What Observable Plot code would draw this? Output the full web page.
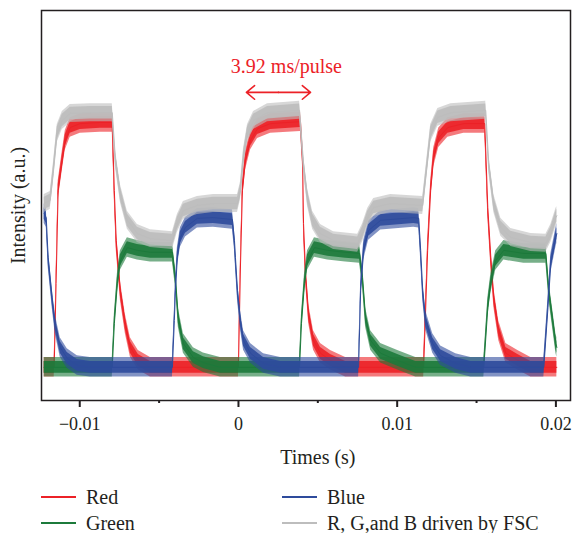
<!DOCTYPE html>
<html>
<head>
<meta charset="utf-8">
<script src="https://cdn.jsdelivr.net/npm/d3@7"></script>
<script src="https://cdn.jsdelivr.net/npm/@observablehq/plot@0.6"></script>
<style>
  html, body { margin: 0; padding: 0; background: #fff; }
  #wrap { position: relative; width: 573px; height: 533px; font-family: "Liberation Serif", "DejaVu Serif", serif; color: #231f20; }
  .item { position: absolute; display: flex; align-items: center; height: 26px; font-size: 20px; }
  .sw { width: 35px; height: 2.5px; margin-right: 10px; }
</style>
</head>
<body>
<div id="wrap"></div>
<script>
// ---- data (time in ms, intensity in a.u.) ----
const seriesNames = ["Red", "Green", "Blue", "R, G,and B driven by FSC"];
const seriesColors = ["#ec2127", "#1c7a3b", "#2e4b9c", "#bdbdbd"];

const red = [
  [-12.24, 8.5], [-11.61, 8.5], [-11.49, 30.0], [-11.36, 53.8], [-11.10, 61.5], [-10.91, 66.7], [-10.60, 70.0], [-9.97, 71.0], [-8.71, 71.3], [-7.95, 71.3],
  [-7.82, 53.8], [-7.70, 41.0], [-7.44, 28.2], [-7.13, 19.7], [-6.81, 13.6], [-6.31, 10.3], [-5.55, 8.5],
  [0.0, 8.5], [0.13, 35.0], [0.25, 53.8], [0.44, 61.5], [0.76, 66.7], [1.20, 69.7], [2.02, 71.0], [3.91, 71.5],
  [4.04, 62.3], [4.10, 45.4], [4.23, 32.6], [4.42, 22.3], [4.73, 15.4], [5.17, 12.1], [5.80, 10.3], [6.75, 8.5],
  [11.67, 8.5], [11.92, 38.5], [12.11, 53.8], [12.30, 62.3], [12.62, 67.4], [13.19, 70.0], [14.20, 71.0], [15.52, 71.0],
  [15.71, 49.5], [15.90, 36.7], [16.09, 26.4], [16.40, 17.9], [16.85, 12.1], [17.60, 10.3], [18.42, 8.5], [20.06, 8.5]
];
const green = [
  [-12.24, 8.5], [-7.95, 8.5], [-7.82, 19.7], [-7.63, 30.0], [-7.44, 35.9], [-7.00, 39.2], [-6.37, 38.5], [-5.55, 38.0], [-4.16, 38.0],
  [-3.97, 31.5], [-3.79, 21.3], [-3.47, 14.6], [-2.84, 11.0], [-2.21, 9.7], [-1.14, 8.5],
  [3.85, 8.5], [3.97, 19.7], [4.16, 30.0], [4.35, 35.9], [4.79, 39.2], [5.62, 38.5], [6.75, 38.0], [7.63, 37.7],
  [7.82, 31.5], [8.01, 21.3], [8.33, 15.4], [8.96, 12.1], [10.03, 10.3], [11.17, 8.5],
  [15.46, 8.5], [15.71, 23.8], [15.90, 30.0], [16.21, 35.9], [16.72, 38.5], [17.98, 37.7], [19.37, 37.7],
  [19.56, 28.2], [19.81, 20.5], [20.00, 14.6], [20.06, 13.6]
];
const blue = [
  [-12.24, 47.9], [-12.11, 46.9], [-11.99, 36.7], [-11.74, 26.4], [-11.55, 19.7], [-11.23, 13.6], [-10.79, 10.8], [-10.16, 9.0], [-9.34, 8.5],
  [-4.16, 8.5], [-4.04, 20.5], [-3.97, 28.2], [-3.85, 36.7], [-3.66, 41.8], [-3.34, 44.4], [-2.59, 46.7], [-1.58, 46.9], [-0.38, 46.4],
  [-0.25, 41.0], [-0.19, 36.7], [-0.06, 28.2], [0.13, 20.5], [0.32, 15.4], [0.76, 12.1], [1.58, 9.5], [2.65, 8.5],
  [7.57, 8.5], [7.70, 28.2], [7.89, 38.5], [8.20, 43.6], [8.96, 46.2], [11.04, 46.9], [11.36, 46.7],
  [11.48, 38.5], [11.61, 28.2], [11.80, 20.5], [12.24, 14.6], [12.74, 11.5], [13.69, 9.5], [14.64, 8.5],
  [19.24, 8.5], [19.50, 23.8], [19.68, 35.1], [20.00, 41.8], [20.06, 42.8]
];
const gray = [
  [-12.24, 50.5], [-11.86, 51.3], [-11.67, 58.2], [-11.42, 68.5], [-11.10, 71.8], [-10.60, 73.6], [-9.34, 73.8], [-7.95, 73.8],
  [-7.76, 62.3], [-7.44, 53.1], [-7.00, 46.2], [-6.37, 42.8], [-5.55, 41.5], [-4.16, 41.0],
  [-3.85, 45.4], [-3.47, 48.7], [-2.59, 50.0], [-1.58, 50.5], [-0.06, 50.5],
  [0.13, 53.8], [0.32, 62.3], [0.57, 68.5], [0.95, 71.8], [1.83, 73.8], [3.85, 74.4],
  [4.10, 60.8], [4.35, 52.1], [4.67, 46.2], [5.17, 42.8], [5.99, 41.0], [7.51, 40.3],
  [7.82, 43.0], [8.14, 46.9], [8.52, 49.5], [9.59, 50.5], [11.61, 50.0],
  [11.92, 61.5], [12.11, 68.5], [12.56, 72.6], [13.38, 73.8], [15.58, 74.4],
  [15.77, 60.8], [16.09, 50.5], [16.53, 44.4], [17.16, 41.8], [18.42, 40.5], [19.37, 40.3],
  [19.68, 42.8], [20.00, 46.9], [20.06, 47.4]
];
// half-widths of the noise band of each trace (a.u.): outer fringe and dense core
const noiseOuter = [2.5, 2.5, 2.5, 2.3];
const noiseInner = [1.5, 1.5, 1.5, 1.6];

const xMajorTicks = [-0.01, 0, 0.01, 0.02];
const xMajorLabels = ["\u22120.01", "0", "0.01", "0.02"];
const xMinorTicks = [-0.005, 0.005, 0.015];

const annotation = { text: "3.92 ms/pulse", x: 3.02, y: 85.6 };
const arrowSpan = { mid: 2.52, left: 0.50, right: 4.54, y: 79.0 };

// ---- build tables ----
const traces = [red, green, blue, gray].map((arr, i) =>
  arr.map(([t, v]) => ({
    t: t / 1000, v,
    lo: v - noiseOuter[i], hi: v + noiseOuter[i],
    lo2: v - noiseInner[i], hi2: v + noiseInner[i],
    s: seriesNames[i]
  }))
);

const W = 573, H = 475;
const font = "Liberation Serif, DejaVu Serif, serif";
const ink = "#231f20";

const marks = [];
traces.forEach((rows, i) => {
  marks.push(Plot.areaY(rows, { x: "t", y1: "lo", y2: "hi", fill: seriesColors[i], fillOpacity: 0.6 }));
  marks.push(Plot.areaY(rows, { x: "t", y1: "lo2", y2: "hi2", fill: seriesColors[i], fillOpacity: 0.9 }));
  marks.push(Plot.line(rows, { x: "t", y: "v", stroke: seriesColors[i], strokeWidth: 1 }));
});

marks.push(
  Plot.axisX(xMinorTicks, { tickSize: 3, strokeWidth: 2, text: null, label: null, stroke: ink }),
  Plot.axisX(xMajorTicks, {
    tickSize: 7, strokeWidth: 2, tickPadding: 10, stroke: ink, fill: ink, fontSize: 18,
    tickFormat: (d) => xMajorLabels[xMajorTicks.indexOf(d)], label: null
  }),
  Plot.frame({ stroke: ink, strokeWidth: 1.5 }),
  Plot.text(["Times (s)"], { x: () => 0.005, frameAnchor: "bottom", dy: 57, lineAnchor: "middle", text: (d) => d, fontSize: 20, fill: ink }),
  Plot.text(["Intensity (a.u.)"], { frameAnchor: "left", dx: -23, rotate: -90, textAnchor: "middle", lineAnchor: "middle", text: (d) => d, fontSize: 20, fill: ink }),
  Plot.text([annotation], { x: (d) => d.x / 1000, y: "y", text: "text", fill: "#ec2127", fontSize: 20 }),
  Plot.arrow([
    { x1: arrowSpan.mid, x2: arrowSpan.left },
    { x1: arrowSpan.mid, x2: arrowSpan.right }
  ], {
    x1: (d) => d.x1 / 1000, x2: (d) => d.x2 / 1000, y1: () => arrowSpan.y, y2: () => arrowSpan.y,
    stroke: "#ec2127", strokeWidth: 1.6, headLength: 10, headAngle: 80
  })
);

const chart = Plot.plot({
  width: W, height: H,
  marginLeft: 41, marginRight: 3, marginTop: 10, marginBottom: H - 400,
  style: { fontFamily: font, fontSize: "18px", background: "#fff", color: ink, overflow: "visible" },
  x: { domain: [-0.01241, 0.02092], axis: null },
  y: { domain: [0, 100], axis: null },
  marks
});

const wrap = document.getElementById("wrap");
wrap.appendChild(chart);

// ---- legend (HTML, below the SVG) ----
const legendPos = [[41, 484], [41, 510], [282, 484], [282, 510]];
seriesNames.forEach((name, i) => {
  const it = document.createElement("div");
  it.className = "item";
  it.style.left = legendPos[i][0] + "px";
  it.style.top = legendPos[i][1] + "px";
  const sw = document.createElement("span");
  sw.className = "sw";
  sw.style.background = seriesColors[i];
  const tx = document.createElement("span");
  tx.textContent = name;
  it.appendChild(sw);
  it.appendChild(tx);
  wrap.appendChild(it);
});
</script>
</body>
</html>
